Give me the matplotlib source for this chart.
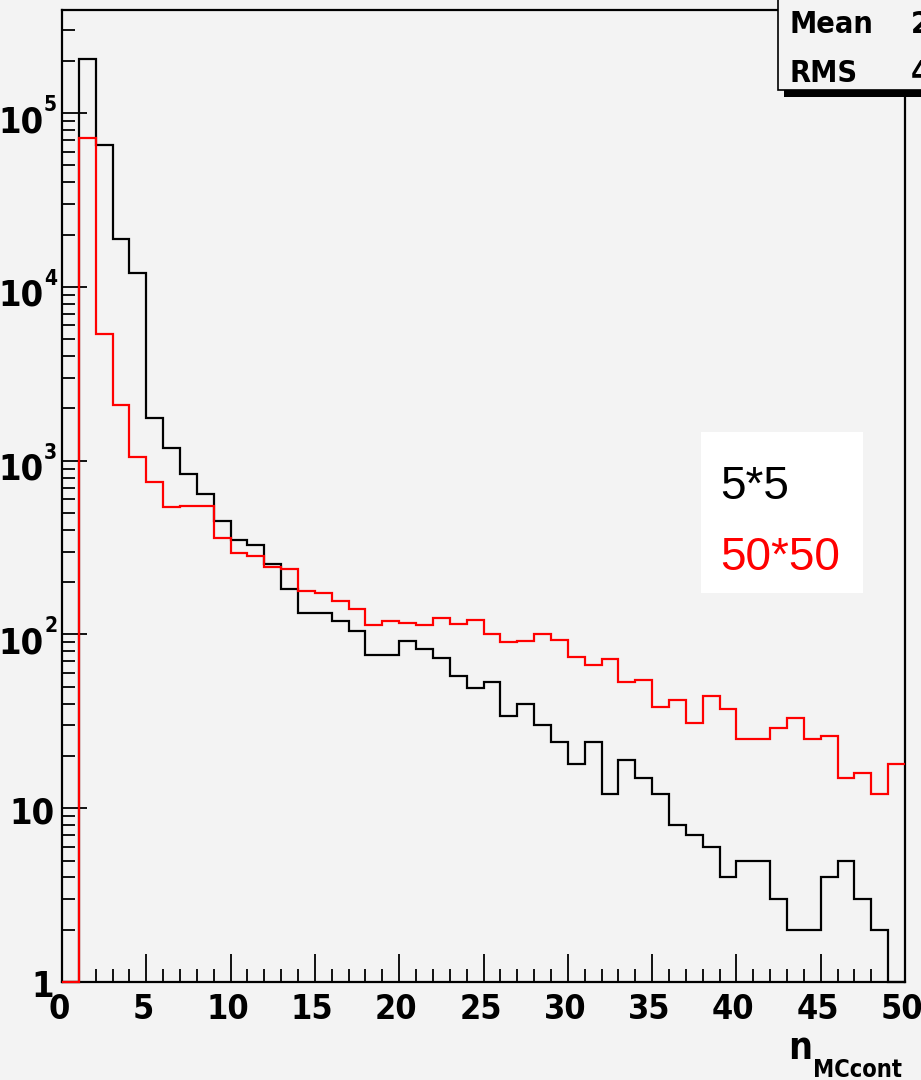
import numpy as np
import matplotlib
matplotlib.use("Agg")
import matplotlib.pyplot as plt
from matplotlib.patches import Rectangle
from matplotlib.ticker import FixedLocator, NullFormatter
from matplotlib import font_manager as fm
from matplotlib.transforms import blended_transform_factory, offset_copy, ScaledTranslation

# ---- data (bin contents, bins of width 1 from 0 to 50) ----
edges = list(range(0, 51))
counts_5x5 = [0, 206000, 65200, 18800, 12000, 1760, 1190, 840, 644, 451,
              348, 328, 255, 183, 133, 132, 120, 105, 76, 76,
              92, 82, 73, 58, 49, 53, 34, 40, 30, 24,
              18, 24, 12, 19, 15, 12, 8, 7, 6, 4,
              5, 5, 3, 2, 2, 4, 5, 3, 2, 0]
counts_50x50 = [0, 72100, 5330, 2100, 1050, 751, 540, 552, 545, 360,
                294, 282, 245, 237, 178, 173, 155, 140, 113, 120,
                117, 113, 124, 115, 121, 100, 91, 92, 101, 93,
                74, 67, 72, 53, 55, 38, 42, 31, 44, 37,
                25, 25, 29, 33, 25, 26, 15, 16, 12, 18]
legend_labels = ["5*5", "50*50"]
xtick_major = list(range(0, 51, 5))
ytick_major = [1, 10, 100, 1000, 10000, 100000]
ytick_base = ["1", "10", "10", "10", "10", "10"]
ytick_exp = ["", "", "2", "3", "4", "5"]
stat_names = ["Mean", "RMS"]
stat_values = ["2", "4"]
xtitle_main = "n"
xtitle_sub = "MCcont"

BG = "#f3f3f3"

# ---- pick a bold condensed font if one is installed ----
def find_condensed_bold():
    prefs = ["liberationsansnarrow-bold.", "dejavusanscondensed-bold.",
             "robotocondensed-bold.", "opensans-condbold.", "opensans_condensed-bold.",
             "notosans-condensedbold.", "notosanscondensed-bold."]
    files = [f.fname for f in fm.fontManager.ttflist]
    low = {p.lower().split("/")[-1]: p for p in files}
    for p in prefs:
        for k, v in low.items():
            if k.startswith(p):
                return v
    for k, v in low.items():
        if ("narrow" in k or "condensed" in k or "cond" in k) and "bold" in k \
                and "italic" not in k and "oblique" not in k and "semi" not in k \
                and "extra" not in k:
            return v
    return None

cf = find_condensed_bold()
if cf is not None:
    def BF(size):
        return fm.FontProperties(fname=cf, size=size)
    scale = 1.0
else:
    def BF(size):
        return fm.FontProperties(family="DejaVu Sans", weight="bold", size=size)
    scale = 0.9

W, H = 921, 1080
def fx(x):
    return x / W
def fy(y):
    return 1 - y / H

fig = plt.figure(figsize=(W / 100, H / 100), dpi=100, facecolor=BG)
ax = fig.add_axes([fx(62), fy(982), (905 - 62) / W, (982 - 10) / H])
ax.set_facecolor(BG)

ymin, ymax = 1.0, 3.92e5
b = np.maximum(np.array(counts_5x5, float), ymin)
r = np.maximum(np.array(counts_50x50, float), ymin)
ax.stairs(b, edges, color="black", lw=1.6, baseline=None, clip_on=False, zorder=3)
ax.stairs(r, edges, color="#ff0000", lw=1.6, baseline=None, clip_on=False, zorder=4)

ax.set_yscale("log")
ax.set_xlim(0, 50)
ax.set_ylim(ymin, ymax)

for s in ax.spines.values():
    s.set_linewidth(1.6)
    s.set_color("black")

ax.xaxis.set_major_locator(FixedLocator(xtick_major))
ax.xaxis.set_minor_locator(FixedLocator(list(range(0, 51))))
ax.yaxis.set_major_locator(FixedLocator(ytick_major))
ax.yaxis.set_major_formatter(NullFormatter())
minors = [m * 10 ** d for d in range(0, 6) for m in range(2, 10) if m * 10 ** d < ymax]
ax.yaxis.set_minor_locator(FixedLocator(minors))
ax.yaxis.set_minor_formatter(NullFormatter())

ax.tick_params(axis="x", which="major", direction="in", length=20, width=1.3,
               top=False, pad=8)
ax.tick_params(axis="x", which="minor", direction="in", length=9.5, width=1.3, top=False)
ax.tick_params(axis="y", which="major", direction="in", length=18, width=1.3, right=False)
ax.tick_params(axis="y", which="minor", direction="in", length=9.5, width=1.3, right=False)

shift = ScaledTranslation(-3 / 100, 0, fig.dpi_scale_trans)
for lab in ax.get_xticklabels():
    lab.set_fontproperties(BF(24.5 * scale))
    lab.set_transform(lab.get_transform() + shift)

# y tick labels: base "10" plus raised exponent, drawn as real text
ytr = blended_transform_factory(fig.transFigure, ax.transData)
for v, base, ex in zip(ytick_major, ytick_base, ytick_exp):
    if ex:
        t_base = offset_copy(ytr, fig=fig, x=0, y=-9, units="dots")
        ax.text(fx(43), v, base, transform=t_base, ha="right", va="center",
                fontproperties=BF(26 * scale), clip_on=False)
        t_exp = offset_copy(ytr, fig=fig, x=0, y=8, units="dots")
        ax.text(fx(44), v, ex, transform=t_exp, ha="left", va="center",
                fontproperties=BF(15 * scale), clip_on=False)
    else:
        t_base = offset_copy(ytr, fig=fig, x=0, y=-5, units="dots")
        ax.text(fx(54), v, base, transform=t_base, ha="right", va="center",
                fontproperties=BF(26 * scale), clip_on=False)

# x axis title n_MCcont (subscript right-aligned at the edge, n just before it)
sub = fig.text(fx(902), fy(1077), xtitle_sub, fontproperties=BF(17 * scale),
               ha="right", va="baseline")
renderer = fig.canvas.get_renderer()
bb = sub.get_window_extent(renderer=renderer)
fig.text((bb.x0 - 1) / W, fy(1059), xtitle_main, fontproperties=BF(27 * scale),
         ha="right", va="baseline")

# legend box
leg = Rectangle((fx(700.7), fy(593.3)), (863.3 - 700.7) / W, (593.3 - 432.3) / H,
                transform=fig.transFigure, facecolor="white", edgecolor="none", zorder=6)
fig.patches.append(leg)
fig.text(fx(720), fy(499), legend_labels[0], color="black", fontsize=33,
         family=["Liberation Sans", "DejaVu Sans"], ha="left", va="baseline", zorder=7)
fig.text(fx(720), fy(570), legend_labels[1], color="#ff0000", fontsize=33,
         family=["Liberation Sans", "DejaVu Sans"], ha="left", va="baseline", zorder=7)

# statistics box (cut by the figure edge)
shadow = Rectangle((fx(784), fy(97)), (960 - 784) / W, 97 / H,
                   transform=fig.transFigure, facecolor="black", edgecolor="none", zorder=6)
box = Rectangle((fx(778), fy(90)), (960 - 778) / W, 95 / H,
                transform=fig.transFigure, facecolor=BG, edgecolor="black", lw=1.2, zorder=7)
fig.patches.append(shadow)
fig.patches.append(box)
for i, (nm, val) in enumerate(zip(stat_names, stat_values)):
    yb = 33 + i * 48.7
    fig.text(fx(789), fy(yb), nm, fontproperties=BF(22 * scale),
             ha="left", va="baseline", zorder=8)
    fig.text(fx(911), fy(yb), val, fontproperties=BF(22 * scale),
             ha="left", va="baseline", zorder=8)

fig.savefig("out.png", dpi=100, facecolor=BG)
